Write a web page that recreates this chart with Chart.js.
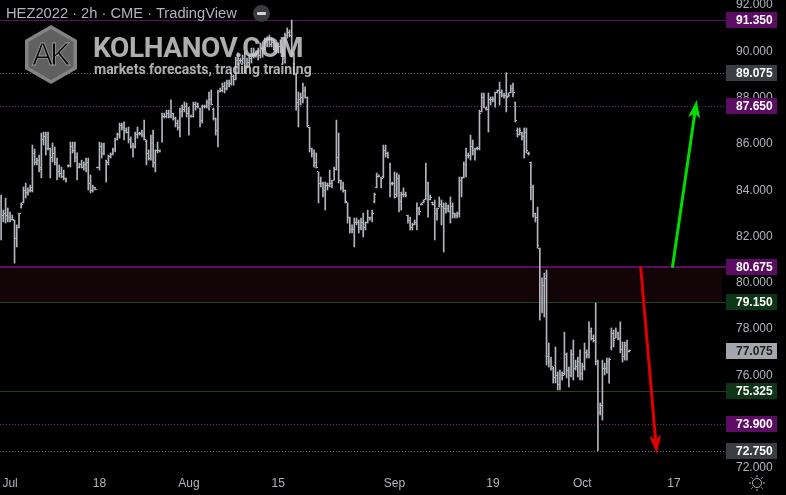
<!DOCTYPE html>
<html lang="en">
<head>
<meta charset="utf-8">
<title>HEZ2022 2h</title>
<script src="https://cdn.jsdelivr.net/npm/chart.js@4.4.1/dist/chart.umd.min.js"></script>
<style>
  html, body { margin: 0; padding: 0; background: #000; }
  #contenedor { position: relative; width: 786px; height: 495px; overflow: hidden; background: #000; }
  #grafico { position: absolute; left: 0; top: 0; }
  #titulo { position: absolute; left: 6px; top: 6px; font: 14.7px/15px "Liberation Sans", Arial, sans-serif; color: #b2b5be; white-space: nowrap; }
  #boton { position: absolute; left: 253px; top: 5px; width: 17px; height: 17px; border-radius: 50%; background: #3a3b3f; }
  #boton::after { content: ""; position: absolute; left: 4px; top: 7px; width: 9px; height: 3px; border-radius: 1px; background: #d4d4d4; }
  #logo { position: absolute; left: 0; top: 0; }
  .marca { position: absolute; font-family: Roboto, sans-serif; font-weight: 700; color: rgba(205, 205, 205, 0.85); white-space: nowrap; }
  #marcaTitulo { left: 93px; top: 34px; font-size: 28px; line-height: 28px; letter-spacing: -0.4px; }
  #marcaSub { left: 94px; top: 62px; font-size: 14px; line-height: 14px; }
</style>
</head>
<body>
<div id="contenedor">
  <canvas id="grafico" width="786" height="495"></canvas>
  <div id="titulo">HEZ2022 · 2h · CME · TradingView</div>
  <div id="boton"></div>
  <svg id="logo" width="120" height="100">
    <polygon points="51,25 77,40 77,69 51,84 25,69 25,40" fill="#9a9a9a" fill-opacity="0.85"></polygon>
    <polygon points="51,29 73.5,42 73.5,67 51,80 28.5,67 28.5,42" fill="#5c5c5c" fill-opacity="0.9"></polygon>
    <text x="50" y="65" text-anchor="middle" font-family="Liberation Sans, Arial, sans-serif" font-size="31" letter-spacing="-3" fill="#0a0a0a" stroke="#9a9a9a" stroke-width="0.8">AK</text>
  </svg>
  <div id="marcaTitulo" class="marca">KOLHANOV.COM</div>
  <div id="marcaSub" class="marca">markets forecasts, trading training</div>
</div>
<script>
// barras de 2h, HEZ2022, de izquierda a derecha
const barsHigh = [
  83.79, 83.14, 83.66, 83.23, 83.06, 82.93, 82.71, 82.50, 83.01, 83.45,
  84.14, 84.31, 84.10, 84.22, 85.95, 85.78, 85.39, 85.52, 86.47, 86.51,
  86.51, 86.51, 85.82, 86.04, 85.87, 85.39, 85.09, 85.00, 84.87, 84.53,
  85.09, 86.08, 86.08, 86.08, 85.61, 85.17, 85.30, 85.22, 85.39, 85.39,
  84.66, 84.22, 84.14, 85.00, 86.08, 86.04, 86.04, 85.30, 85.52, 85.61,
  85.82, 86.25, 86.47, 86.90, 86.90, 86.95, 86.69, 86.73, 86.30, 86.04,
  86.51, 86.73, 86.51, 86.60, 87.03, 86.17, 85.74, 86.38, 86.60, 85.74,
  86.08, 85.74, 87.33, 87.33, 87.46, 87.46, 87.90, 87.33, 87.16, 87.03,
  87.55, 87.68, 87.81, 87.77, 87.59, 87.25, 87.81, 87.81, 87.77, 87.55,
  87.68, 87.68, 87.90, 88.24, 88.33, 87.55, 87.12, 88.33, 88.41, 88.63,
  88.67, 88.76, 88.76, 89.06, 88.98, 89.75, 89.93, 89.71, 89.84, 89.97,
  89.71, 89.84, 90.14, 90.14, 89.97, 90.14, 90.36, 90.19, 90.57, 90.62,
  90.70, 90.57, 90.49, 90.36, 90.36, 90.49, 90.19, 90.79, 91.01, 90.92,
  91.35, 89.93, 89.06, 88.24, 88.20, 88.63, 88.46, 88.03, 86.73, 85.82,
  85.74, 85.61, 84.79, 84.57, 84.35, 84.35, 84.31, 84.87, 84.44, 85.00,
  87.03, 86.47, 84.44, 84.35, 84.01, 83.45, 82.84, 82.50, 82.80, 82.80,
  82.71, 82.80, 83.01, 82.63, 83.14, 82.84, 83.14, 83.88, 84.74, 84.66,
  84.57, 85.95, 85.95, 85.65, 85.17, 84.35, 84.79, 84.74, 84.66, 83.92,
  84.10, 83.92, 82.93, 82.84, 82.58, 82.71, 83.45, 83.27, 83.45, 83.58,
  85.17, 84.35, 83.79, 83.49, 83.58, 83.23, 83.71, 83.58, 83.45, 83.45,
  83.36, 83.71, 83.45, 83.01, 83.06, 84.57, 84.57, 85.22, 85.82, 85.61,
  86.38, 86.17, 85.82, 85.87, 87.46, 88.20, 88.20, 87.59, 88.20, 88.03,
  88.03, 88.24, 88.33, 88.67, 88.33, 88.20, 89.075, 88.20, 88.54, 88.63,
  87.81, 86.69, 86.69, 86.51, 86.69, 86.69, 85.65, 85.22, 84.22, 83.01,
  83.27, 81.50, 80.21, 80.42, 80.55, 77.40, 76.79, 76.36, 77.23, 76.15,
  76.23, 76.15, 77.87, 76.97, 76.36, 77.10, 77.53, 76.66, 76.79, 77.10,
  76.53, 77.40, 77.10, 78.31, 78.05, 77.75, 79.13, 76.66, 74.81, 76.66,
  76.53, 76.75, 76.75, 78.05, 77.96, 78.05, 77.87, 78.31, 77.44, 77.44,
  77.53, 77.10
];

const barsLow = [
  81.85, 82.63, 82.58, 82.63, 82.63, 82.71, 80.85, 81.55, 82.37, 83.23,
  83.45, 83.66, 83.79, 83.92, 83.92, 85.09, 85.09, 84.79, 84.53, 85.95,
  85.52, 85.74, 84.53, 85.22, 85.09, 84.44, 84.57, 84.53, 84.44, 84.35,
  85.00, 85.00, 85.61, 85.22, 84.44, 84.96, 84.96, 84.87, 84.79, 84.01,
  83.88, 83.92, 84.01, 84.96, 84.87, 85.39, 85.52, 84.35, 85.09, 85.39,
  85.52, 85.65, 86.17, 86.25, 86.60, 86.17, 86.47, 86.04, 85.82, 85.43,
  85.82, 86.25, 86.38, 86.30, 86.17, 85.09, 85.30, 85.30, 85.00, 84.79,
  85.61, 85.65, 86.08, 87.12, 87.12, 87.12, 87.12, 87.03, 86.73, 86.60,
  86.30, 87.16, 87.38, 87.16, 86.38, 87.16, 87.16, 87.46, 87.55, 86.73,
  86.90, 87.55, 87.55, 87.46, 87.68, 87.03, 86.38, 85.87, 88.24, 88.24,
  88.20, 88.33, 88.46, 88.54, 88.54, 88.76, 89.41, 89.49, 89.49, 89.06,
  89.28, 89.32, 89.49, 89.71, 89.75, 89.62, 89.71, 89.75, 90.06, 90.19,
  90.19, 90.19, 90.06, 89.93, 89.93, 89.93, 89.49, 89.49, 90.57, 90.62,
  89.75, 88.98, 87.46, 86.73, 87.68, 87.77, 87.98, 86.73, 85.65, 85.43,
  85.00, 84.96, 83.45, 84.14, 83.71, 83.14, 84.01, 84.14, 84.10, 84.44,
  84.87, 84.31, 84.01, 83.92, 83.45, 82.58, 82.15, 82.15, 81.55, 82.50,
  82.15, 82.28, 81.98, 82.28, 82.58, 82.71, 82.63, 83.45, 84.10, 84.57,
  84.10, 84.53, 85.43, 85.39, 83.71, 84.22, 83.66, 83.71, 83.06, 83.14,
  83.71, 83.71, 82.58, 82.28, 82.28, 82.50, 82.28, 82.93, 83.36, 83.45,
  83.58, 82.84, 83.58, 83.36, 81.85, 82.71, 83.27, 82.50, 81.33, 83.01,
  83.06, 82.58, 82.80, 82.80, 82.80, 82.84, 83.71, 84.53, 84.57, 85.39,
  85.30, 85.52, 85.30, 85.74, 85.74, 87.38, 87.55, 87.46, 86.51, 87.68,
  87.81, 87.59, 88.20, 87.68, 88.03, 87.98, 87.38, 88.03, 88.20, 88.03,
  86.95, 86.30, 86.38, 86.17, 85.39, 85.61, 85.52, 83.58, 82.84, 82.63,
  81.50, 78.39, 78.70, 78.52, 76.45, 76.36, 76.23, 75.67, 75.67, 75.37,
  75.37, 75.80, 76.02, 75.89, 75.50, 75.93, 75.80, 76.23, 75.93, 75.80,
  75.80, 76.23, 76.75, 76.75, 77.53, 77.44, 76.45, 72.75, 74.29, 74.07,
  76.02, 76.10, 75.67, 77.10, 77.23, 77.62, 77.53, 76.97, 76.58, 76.66,
  76.66, 77.01
];

const barsOpen = [
  83.5, 82.9, 83.0, 82.9, 82.8, 82.75, 82.7, 81.9, 82.4, 83.25,
  83.45, 84.0, 83.9, 84.0, 84.0, 85.6, 85.2, 85.3, 84.9, 86.2,
  86.3, 85.8, 85.8, 85.4, 85.6, 85.2, 84.8, 84.7, 84.6, 84.5,
  85.05, 85.05, 85.9, 85.7, 85.4, 85.0, 85.1, 85.0, 85.1, 85.2,
  84.3, 84.0, 84.1, 84.98, 84.98, 85.9, 85.6, 85.3, 85.2, 85.45,
  85.55, 85.75, 86.2, 86.4, 86.8, 86.7, 86.6, 86.5, 86.2, 85.9,
  85.9, 86.4, 86.45, 86.45, 86.4, 86.1, 85.6, 85.35, 86.0, 85.2,
  85.7, 85.7, 86.1, 87.2, 87.2, 87.3, 87.2, 87.3, 87.1, 86.9,
  86.7, 87.4, 87.5, 87.6, 87.3, 87.2, 87.2, 87.7, 87.6, 87.55,
  87.0, 87.6, 87.6, 87.8, 87.9, 87.5, 87.1, 86.6, 88.25, 88.3,
  88.5, 88.4, 88.6, 88.6, 88.9, 88.8, 89.6, 89.6, 89.6, 89.7,
  89.4, 89.5, 89.7, 89.9, 89.8, 89.9, 89.8, 90.1, 90.1, 90.4,
  90.5, 90.3, 90.4, 90.2, 90.1, 90.2, 90.0, 89.7, 90.7, 90.8,
  90.7, 89.9, 89.0, 87.8, 87.9, 88.0, 88.3, 88.0, 86.7, 85.8,
  85.6, 85.2, 84.79, 84.3, 84.3, 84.0, 84.2, 84.2, 84.3, 84.4,
  84.9, 85.4, 84.4, 84.1, 84.0, 83.45, 82.8, 82.3, 82.3, 82.6,
  82.6, 82.4, 82.6, 82.4, 82.6, 82.8, 82.8, 83.5, 84.1, 84.6,
  84.57, 84.6, 85.7, 85.6, 85.1, 84.3, 84.3, 83.8, 84.5, 83.5,
  83.8, 83.8, 82.9, 82.7, 82.4, 82.5, 82.6, 83.2, 83.4, 83.45,
  83.6, 84.3, 83.6, 83.45, 83.4, 83.0, 83.3, 83.4, 83.3, 83.2,
  83.2, 83.1, 83.3, 83.0, 82.9, 83.0, 84.4, 84.55, 85.1, 85.5,
  85.5, 85.9, 85.7, 85.8, 85.8, 87.4, 88.0, 87.55, 87.5, 87.9,
  87.9, 87.9, 88.2, 88.3, 88.2, 88.1, 88.1, 88.05, 88.2, 88.4,
  87.8, 86.6, 86.4, 86.5, 86.3, 86.5, 85.6, 85.2, 84.1, 83.0,
  82.8, 81.5, 78.8, 79.9, 80.2, 76.8, 76.6, 76.3, 75.9, 76.0,
  75.6, 76.0, 76.1, 76.9, 76.2, 76.0, 76.9, 76.3, 76.4, 76.6,
  76.1, 76.4, 77.0, 76.9, 77.9, 77.6, 77.5, 76.6, 74.4, 74.7,
  76.3, 76.3, 76.6, 77.2, 77.8, 77.6, 77.8, 77.6, 77.1, 76.8,
  77.3, 77.05
];

const barsClose = [
  82.9, 83.0, 82.9, 82.8, 82.75, 82.72, 81.9, 82.4, 83.0, 83.4,
  84.0, 83.9, 84.0, 84.1, 85.6, 85.2, 85.3, 85.0, 86.2, 86.3,
  85.8, 85.8, 85.4, 85.6, 85.2, 84.8, 84.7, 84.6, 84.5, 84.4,
  85.05, 85.9, 85.7, 85.4, 85.0, 85.1, 85.0, 85.1, 85.2, 84.3,
  84.0, 84.1, 84.05, 84.98, 85.9, 85.6, 85.6, 85.2, 85.45, 85.55,
  85.75, 86.2, 86.4, 86.8, 86.7, 86.6, 86.5, 86.2, 85.9, 85.9,
  86.4, 86.45, 86.45, 86.4, 86.2, 85.6, 85.35, 86.0, 85.2, 85.7,
  85.7, 85.7, 87.2, 87.2, 87.3, 87.2, 87.3, 87.1, 86.9, 86.7,
  87.4, 87.5, 87.6, 87.3, 87.2, 87.2, 87.7, 87.6, 87.6, 87.0,
  87.6, 87.6, 87.8, 87.9, 87.7, 87.1, 86.6, 88.2, 88.3, 88.5,
  88.4, 88.6, 88.6, 88.9, 88.8, 89.6, 89.6, 89.6, 89.7, 89.4,
  89.5, 89.7, 89.9, 89.8, 89.9, 89.8, 90.1, 90.1, 90.4, 90.5,
  90.3, 90.4, 90.2, 90.1, 90.2, 90.0, 89.7, 90.7, 90.8, 90.7,
  89.9, 89.1, 87.8, 87.9, 88.0, 88.3, 88.0, 86.8, 85.8, 85.6,
  85.2, 85.0, 84.3, 84.3, 84.0, 84.2, 84.2, 84.3, 84.4, 84.9,
  85.4, 84.4, 84.1, 84.0, 83.5, 82.8, 82.3, 82.3, 82.6, 82.6,
  82.4, 82.6, 82.4, 82.6, 82.8, 82.8, 83.0, 83.8, 84.6, 84.6,
  84.5, 85.7, 85.6, 85.4, 84.3, 84.3, 83.7, 84.5, 83.5, 83.8,
  83.8, 83.75, 82.7, 82.4, 82.5, 82.6, 83.2, 83.1, 83.4, 83.5,
  84.9, 83.6, 83.7, 83.4, 83.0, 83.2, 83.4, 83.3, 83.2, 83.2,
  83.1, 83.3, 83.0, 82.9, 83.0, 84.4, 84.5, 85.1, 85.5, 85.5,
  85.9, 85.7, 85.8, 85.8, 87.3, 88.0, 87.6, 87.5, 87.9, 87.9,
  87.9, 88.2, 88.3, 88.2, 88.1, 88.1, 88.0, 88.1, 88.4, 88.2,
  87.0, 86.4, 86.6, 86.3, 86.5, 85.7, 85.6, 84.1, 83.0, 82.8,
  81.6, 78.6, 79.9, 80.2, 76.8, 76.6, 76.4, 75.9, 76.0, 75.6,
  76.0, 76.0, 76.9, 76.2, 76.0, 76.9, 76.3, 76.4, 76.6, 76.1,
  76.4, 77.0, 76.9, 77.9, 77.6, 77.5, 76.6, 74.4, 74.7, 76.3,
  76.3, 76.6, 76.7, 77.8, 77.5, 77.9, 77.6, 77.1, 76.8, 77.3,
  77.05, 77.075
];

// eje de tiempo: posiciones (indice de barra) y textos
const dateTicks = [4, 44, 84, 124, 176, 220, 260, 301];
const dateLabels = ["Jul", "18", "Aug", "15", "Sep", "19", "Oct", "17"];
const totalSlots = 323;

const priceTicks = [72, 74, 76, 78, 80, 82, 84, 86, 88, 90, 92];
const priceMin = 71.914;
const priceMax = 92.216;

// niveles marcados en el eje de precios
const levelValues = [91.35, 89.075, 87.65, 80.675, 79.15, 77.075, 75.325, 73.9, 72.75];
const zoneRange = [79.15, 80.675];

// flechas: [indice, precio] de inicio y de punta
const arrowUp = [[300.3, 80.65], [311.2, 87.9]];
const arrowDown = [[286.1, 80.7], [293.3, 72.63]];

const colorBarra = "#b2b5be";
const morado = "#5d0c63";
const verde = "#1d4524";

const levelStyles = [
  { line: morado, width: 1, dash: [], tag: morado, text: "#ffffff" },
  { line: "#6a6d78", width: 1, dash: [1, 2], tag: "#3b3d44", text: "#ffffff" },
  { line: "#7a2485", width: 1, dash: [1, 2], tag: morado, text: "#ffffff" },
  { line: morado, width: 2, dash: [], tag: morado, text: "#ffffff" },
  { line: verde, width: 1, dash: [], tag: "#0e3516", text: "#ffffff" },
  { line: null, width: 0, dash: [], tag: "#a4a6ad", text: "#1e1e1e" },
  { line: verde, width: 1, dash: [], tag: "#0e3516", text: "#ffffff" },
  { line: "#7a2485", width: 1, dash: [1, 2], tag: morado, text: "#ffffff" },
  { line: "#6a6d78", width: 1, dash: [1, 2], tag: "#3b3d44", text: "#ffffff" }
];

function crearMarca(lado) {
  const c = document.createElement("canvas");
  c.width = 3;
  c.height = 1;
  const g = c.getContext("2d");
  g.fillStyle = colorBarra;
  g.fillRect(lado === "izq" ? 0 : 2, 0, 1, 1);
  return c;
}

function dibujarFlecha(ctx, x1, y1, x2, y2, color) {
  const ang = Math.atan2(y2 - y1, x2 - x1);
  const largo = 18;
  const ancho = 6;
  const bx = x2 - largo * Math.cos(ang);
  const by = y2 - largo * Math.sin(ang);
  const nx = x2 - (largo - 4) * Math.cos(ang);
  const ny = y2 - (largo - 4) * Math.sin(ang);
  ctx.strokeStyle = color;
  ctx.lineWidth = 3;
  ctx.beginPath();
  ctx.moveTo(x1, y1);
  ctx.lineTo(nx, ny);
  ctx.stroke();
  ctx.fillStyle = color;
  ctx.beginPath();
  ctx.moveTo(x2, y2);
  ctx.lineTo(bx + ancho * Math.sin(ang), by - ancho * Math.cos(ang));
  ctx.lineTo(nx, ny);
  ctx.lineTo(bx - ancho * Math.sin(ang), by + ancho * Math.cos(ang));
  ctx.closePath();
  ctx.fill();
}

const nivelesPlugin = {
  id: "niveles",
  beforeDraw(chart) {
    const ctx = chart.ctx;
    ctx.save();
    ctx.fillStyle = "#000000";
    ctx.fillRect(0, 0, chart.width, chart.height);
    ctx.restore();
  },
  beforeDatasetsDraw(chart) {
    const { ctx, chartArea, scales } = chart;
    const y = scales.y;
    ctx.save();
    const yTop = y.getPixelForValue(zoneRange[1]);
    const yBot = y.getPixelForValue(zoneRange[0]);
    ctx.fillStyle = "#120407";
    ctx.fillRect(chartArea.left, yTop, chartArea.right - chartArea.left, yBot - yTop);
    levelValues.forEach((v, i) => {
      const st = levelStyles[i];
      if (!st.line) return;
      const py = Math.round(y.getPixelForValue(v)) + (st.width % 2 ? 0.5 : 0);
      ctx.beginPath();
      ctx.strokeStyle = st.line;
      ctx.lineWidth = st.width;
      ctx.setLineDash(st.dash);
      ctx.moveTo(chartArea.left, py);
      ctx.lineTo(chartArea.right + 4, py);
      ctx.stroke();
    });
    ctx.restore();
  },
  afterDatasetsDraw(chart) {
    const { ctx, scales } = chart;
    const x = scales.x;
    const y = scales.y;
    ctx.save();
    dibujarFlecha(ctx,
      x.getPixelForValue(arrowUp[0][0]), y.getPixelForValue(arrowUp[0][1]),
      x.getPixelForValue(arrowUp[1][0]), y.getPixelForValue(arrowUp[1][1]), "#00dd00");
    dibujarFlecha(ctx,
      x.getPixelForValue(arrowDown[0][0]), y.getPixelForValue(arrowDown[0][1]),
      x.getPixelForValue(arrowDown[1][0]), y.getPixelForValue(arrowDown[1][1]), "#e00000");
    ctx.restore();
  },
  afterDraw(chart) {
    const { ctx, chartArea, scales } = chart;
    const y = scales.y;
    ctx.save();
    // tapa la parte del eje de precios que queda bajo el eje de tiempo
    ctx.fillStyle = "#000000";
    ctx.fillRect(chartArea.right, chartArea.bottom + 1, chart.width - chartArea.right, chart.height - chartArea.bottom);

    ctx.font = "bold 12px 'Liberation Sans', Arial, sans-serif";
    ctx.textBaseline = "middle";
    ctx.textAlign = "left";
    levelValues.forEach((v, i) => {
      const st = levelStyles[i];
      const py = y.getPixelForValue(v);
      ctx.fillStyle = st.tag;
      ctx.fillRect(chartArea.right + 4, Math.round(py) - 8, 51, 16);
      ctx.fillStyle = st.text;
      ctx.fillText(v.toFixed(3), chartArea.right + 14, Math.round(py) + 1);
    });

    // icono de ajustes
    const cx = 757, cy = 483;
    ctx.strokeStyle = colorBarra;
    ctx.lineWidth = 1;
    ctx.beginPath();
    ctx.arc(cx, cy, 4.5, 0, Math.PI * 2);
    ctx.stroke();
    for (let k = 0; k < 8; k++) {
      const a = k * Math.PI / 4;
      ctx.beginPath();
      ctx.moveTo(cx + Math.cos(a) * 6, cy + Math.sin(a) * 6);
      ctx.lineTo(cx + Math.cos(a) * 8, cy + Math.sin(a) * 8);
      ctx.stroke();
    }
    ctx.restore();
  }
};

function sinRelleno(s) {
  s.paddingTop = 0;
  s.paddingBottom = 0;
  s.paddingLeft = 0;
  s.paddingRight = 0;
}

Chart.defaults.font.family = "'Liberation Sans', Arial, sans-serif";
Chart.defaults.font.size = 12;
Chart.defaults.color = colorBarra;

const etiquetas = Array.from({ length: totalSlots }, (_, i) => i);
const rangos = barsHigh.map((h, i) => [barsLow[i], h]);

new Chart(document.getElementById("grafico"), {
  type: "bar",
  data: {
    labels: etiquetas,
    datasets: [
      {
        type: "line",
        label: "open",
        data: barsOpen,
        showLine: false,
        pointStyle: crearMarca("izq"),
        pointRadius: 1,
        pointHoverRadius: 1,
        pointBorderWidth: 0
      },
      {
        type: "line",
        label: "close",
        data: barsClose,
        showLine: false,
        pointStyle: crearMarca("der"),
        pointRadius: 1,
        pointHoverRadius: 1,
        pointBorderWidth: 0
      },
      {
        label: "HEZ2022",
        data: rangos,
        backgroundColor: colorBarra,
        borderWidth: 0,
        barThickness: 1
      }
    ]
  },
  options: {
    responsive: false,
    animation: false,
    devicePixelRatio: 1,
    events: [],
    layout: { padding: 0, autoPadding: false },
    plugins: {
      legend: { display: false },
      tooltip: { enabled: false }
    },
    scales: {
      x: {
        type: "category",
        offset: true,
        grid: { display: false, drawTicks: false },
        border: { display: false },
        afterFit: (s) => { s.height = 25; sinRelleno(s); },
        afterBuildTicks: (s) => { s.ticks = dateTicks.map((v) => ({ value: v })); },
        ticks: {
          autoSkip: false,
          maxRotation: 0,
          padding: 6,
          color: colorBarra,
          callback: (value, index) => dateLabels[index]
        }
      },
      y: {
        position: "right",
        min: priceMin,
        max: priceMax,
        grid: { display: false, drawTicks: false },
        border: { display: false },
        afterFit: (s) => { s.width = 64; sinRelleno(s); },
        afterBuildTicks: (s) => { s.ticks = priceTicks.map((v) => ({ value: v })); },
        ticks: {
          padding: 14,
          color: colorBarra,
          callback: (v) => v.toFixed(3)
        }
      }
    }
  },
  plugins: [nivelesPlugin]
});
</script>
</body>
</html>
